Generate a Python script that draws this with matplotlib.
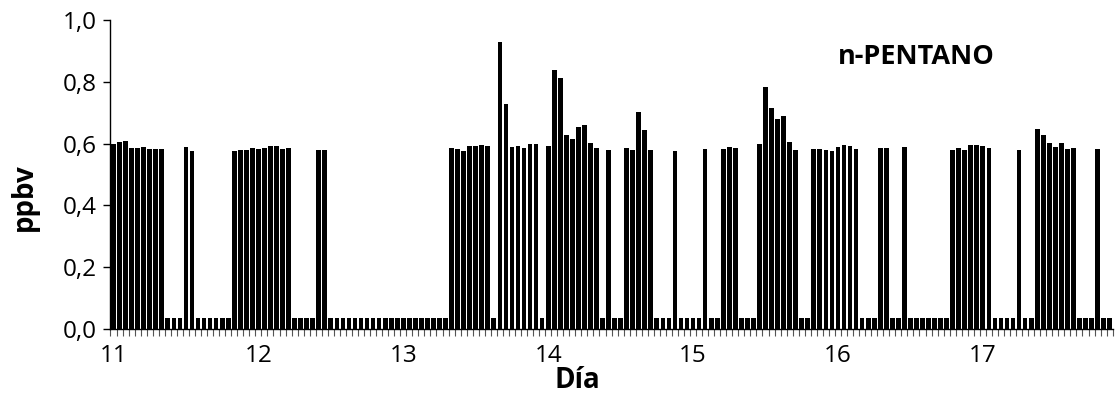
import matplotlib
matplotlib.use("Agg")
import matplotlib.pyplot as plt
import numpy as np
from matplotlib.ticker import FixedLocator, FuncFormatter

# hourly n-pentane concentration (ppbv), one list per day
dia_11 = [0.600, 0.606, 0.608, 0.587, 0.586, 0.588, 0.582, 0.581, 0.583, 0.035, 0.035, 0.035,
          0.590, 0.575, 0.035, 0.035, 0.035, 0.035, 0.035, 0.035, 0.576, 0.578, 0.578, 0.584]
dia_12 = [0.581, 0.585, 0.591, 0.592, 0.582, 0.586, 0.035, 0.035, 0.035, 0.035, 0.579, 0.578,
          0.035, 0.035, 0.035, 0.035, 0.035, 0.035, 0.035, 0.035, 0.035, 0.035, 0.035, 0.035]
dia_13 = [0.035, 0.035, 0.035, 0.035, 0.035, 0.035, 0.035, 0.035, 0.587, 0.582, 0.577, 0.592,
          0.593, 0.594, 0.592, 0.035, 0.927, 0.729, 0.590, 0.591, 0.586, 0.598, 0.599, 0.035]
dia_14 = [0.592, 0.837, 0.812, 0.628, 0.616, 0.654, 0.659, 0.601, 0.585, 0.035, 0.580, 0.035,
          0.035, 0.586, 0.580, 0.701, 0.643, 0.579, 0.035, 0.035, 0.035, 0.577, 0.035, 0.035]
dia_15 = [0.035, 0.035, 0.581, 0.035, 0.035, 0.581, 0.588, 0.586, 0.035, 0.035, 0.035, 0.597,
          0.784, 0.714, 0.680, 0.689, 0.605, 0.580, 0.035, 0.035, 0.583, 0.583, 0.579, 0.577]
dia_16 = [0.590, 0.594, 0.592, 0.582, 0.035, 0.035, 0.035, 0.585, 0.585, 0.035, 0.035, 0.589,
          0.035, 0.035, 0.035, 0.035, 0.035, 0.035, 0.035, 0.578, 0.584, 0.579, 0.594, 0.594]
dia_17 = [0.593, 0.586, 0.035, 0.035, 0.035, 0.035, 0.578, 0.035, 0.035, 0.646, 0.627, 0.603,
          0.590, 0.603, 0.581, 0.587, 0.035, 0.035, 0.035, 0.581, 0.035, 0.035]

dias = ["11", "12", "13", "14", "15", "16", "17"]
y_ticks = [0.0, 0.2, 0.4, 0.6, 0.8, 1.0]

valores = dia_11 + dia_12 + dia_13 + dia_14 + dia_15 + dia_16 + dia_17
x = np.arange(len(valores))

plt.rcParams["font.family"] = ["Open Sans", "DejaVu Sans"]

fig = plt.figure(figsize=(11.16, 3.96), dpi=100)
ax = fig.add_axes([0.099, 0.169, 0.898, 0.781])

ax.bar(x, valores, width=0.78, color="black", edgecolor="none")

ax.set_xlim(-0.5, len(valores) - 0.5)
ax.set_ylim(0, 1.0)

ax.set_yticks(y_ticks)
ax.yaxis.set_major_formatter(FuncFormatter(lambda v, _: f"{v:.1f}".replace(".", ",")))
ax.tick_params(axis="y", direction="out", length=5, width=1, labelsize=17.5, pad=5)

ax.set_xticks(np.arange(len(dias)) * 24)
ax.set_xticklabels(dias)
ax.xaxis.set_minor_locator(FixedLocator(np.arange(len(valores) + 1) - 0.5))
ax.tick_params(axis="x", which="major", length=0, labelsize=17.5, pad=11)
ax.tick_params(axis="x", which="minor", direction="out", length=5, width=0.8, color="#555555")

for side in ("top", "right"):
    ax.spines[side].set_visible(False)
ax.spines["left"].set_linewidth(1.0)
ax.spines["bottom"].set_linewidth(1.0)

fig.text(0.022, 0.503, "ppbv", rotation=90, ha="center", va="center",
         fontsize=20, fontweight="bold")
fig.text(0.517, 0.038, "Día", ha="center", va="center", fontsize=20, fontweight="bold")
fig.text(0.821, 0.856, "n-PENTANO", ha="center", va="center", fontsize=19.5, fontweight="bold")

fig.savefig("out.png", dpi=100)
